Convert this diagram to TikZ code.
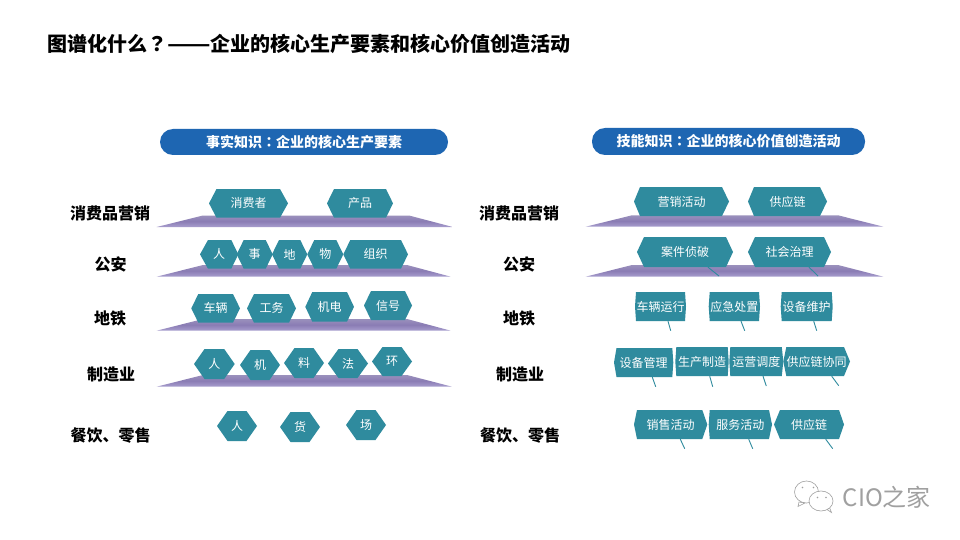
\documentclass[tikz,border=0pt]{standalone}
\usepackage{fontspec}
\setmainfont{Noto Sans CJK SC}
\newfontfamily\tcfont{Noto Sans CJK TC}
\definecolor{teal1}{HTML}{2F8B9E}
\definecolor{blue1}{HTML}{1E66B2}
\definecolor{pTop}{HTML}{9A90BC}
\definecolor{pMid}{HTML}{8A7CB4}
\definecolor{pBot}{HTML}{A89ECE}
\definecolor{greyA}{HTML}{A0A0A0}
\tikzset{
  hextext/.style={inner sep=0pt,text=white,font=\fontsize{12}{12}\selectfont},
  hexfill/.style={fill=teal1,draw=none},
  rowlabel/.style={inner sep=0pt,text=black,font=\fontsize{16}{16}\selectfont\bfseries},
  headbar/.style={fill=blue1,draw=none,rounded corners=13pt,inner sep=0pt,text=white,font=\fontsize{14}{14}\selectfont\bfseries},
  tailline/.style={draw=teal1,line width=0.9pt},
  logoline/.style={draw=greyA,line width=0.6pt,fill=white},
}
% name, x1, x2, y1, y2, left inset, right inset, text
\newcommand{\hexa}[8]{%
  \pgfmathsetmacro{\hw}{#3-(#2)}\pgfmathsetmacro{\hh}{#5-(#4)}%
  \pgfmathsetmacro{\hx}{(#2+#3)/2}\pgfmathsetmacro{\hy}{(#4+#5)/2}%
  \fill[hexfill] (#2,\hy) -- (#2+#6,#4) -- (#3-#7,#4) -- (#3,\hy) -- (#3-#7,#5) -- (#2+#6,#5) -- cycle;
  \node[hextext,minimum width=\hw pt,minimum height=\hh pt] (#1) at (\hx,\hy) {\raisebox{-1pt}{#8}};}
% name, bottom left, bottom right, top left, top right, top y, bottom y
\newcommand{\platform}[7]{%
  \shade[top color=pTop,bottom color=pBot,middle color=pMid] (#2,#7) -- (#4,#6) -- (#5,#6) -- (#3,#7) -- cycle;
  \coordinate (#1) at (#4,#6);}
% node, start x, end x, end y
\newcommand{\tailto}[4]{%
  \coordinate (#1-tip) at (#3,#4);
  \coordinate (#1-base) at (#2,0);
  \draw[tailline] (#1-base |- #1.south) -- (#1-tip);}
\begin{document}
\begin{tikzpicture}[x=1pt,y=-1pt]
\useasboundingbox (0,0) rectangle (960,540);
\fill[white] (0,0) rectangle (960,540);
\node[anchor=west,inner sep=0pt,font=\fontsize{20}{20}\selectfont\bfseries] (title) at (47,43.5) {图谱化什么{\tcfont ？}\scalebox{1.27}[1]{——}企业的核心生产要素和核心价值创造活动};
% headers
\node[headbar,minimum width=288pt,minimum height=26pt] (headL) at (304,142) {事实知识{\tcfont ：}企业的核心生产要素};
\node[headbar,minimum width=273pt,minimum height=27pt] (headR) at (728.5,141.5) {技能知识{\tcfont ：}企业的核心价值创造活动};
% row labels
\foreach \nm/\xx/\yy/\tt in {a/110/213/消费品营销,b/110.5/264/公安,c/110/318/地铁,d/111/374/制造业,e/110.5/436/餐饮、零售,
  f/519/213/消费品营销,g/519/264/公安,h/519/318/地铁,i/520/374/制造业,j/520/436/餐饮、零售}
  {\node[rowlabel] (lab\nm) at (\xx,\yy) {\tt};}
% platforms
\platform{pl1}{156.7}{452.7}{203}{409}{215.5}{227}
\platform{pl2}{156.7}{450.7}{203}{407}{265}{276.7}
\platform{pl3}{156.7}{450.7}{203}{407}{319}{330.7}
\platform{pl4}{156.7}{452}{203}{407}{375}{386.7}
\platform{pr1}{585.7}{883.3}{632}{838}{215.3}{226.7}
\platform{pr2}{585.7}{883.3}{632}{838}{265}{276.7}
% left hexagons
\hexa{l11}{209}{288}{189}{217.7}{7.5}{8}{\raisebox{-2pt}{消费者}}
\hexa{l12}{327}{393}{189}{217.7}{7}{7}{\raisebox{-1pt}{产品}}
\hexa{l21}{200}{238.3}{240}{268.7}{8}{7}{\raisebox{-1pt}{人}}
\hexa{l22}{236.7}{272.7}{240}{268.7}{7}{7}{\raisebox{-1pt}{事}}
\hexa{l23}{272}{307.3}{240}{268.7}{7}{7}{\raisebox{-1pt}{地}}
\hexa{l24}{307.3}{343.3}{240}{268.7}{7}{7}{\raisebox{-1pt}{物}}
\hexa{l25}{343.3}{408}{240}{268.7}{7}{7}{\raisebox{-1pt}{组织}}
\hexa{l31}{191.3}{240}{294}{322.7}{7}{7}{车辆}
\hexa{l32}{247}{296}{294}{322.7}{7}{7}{工务}
\hexa{l33}{305.3}{354}{292}{321.7}{7}{7}{机电}
\hexa{l34}{364}{412}{291}{320}{7}{7}{信号}
\hexa{l41}{194}{234.7}{349}{379}{10.5}{10.5}{人}
\hexa{l42}{240}{280}{350}{380}{10.5}{10.5}{机}
\hexa{l43}{284}{324}{348}{378}{10.5}{10.5}{料}
\hexa{l44}{328}{368}{349}{378}{10.5}{10.5}{法}
\hexa{l45}{372}{412}{347}{376}{10.5}{10.5}{环}
\hexa{l51}{217}{257}{411}{441}{10.5}{10.5}{人}
\hexa{l52}{280}{320}{412}{442}{10.5}{10.5}{货}
\hexa{l53}{346}{386}{410}{440}{10.5}{10.5}{场}
% right hexagons
\hexa{r11}{634}{729}{187}{216}{6}{7}{营销活动}
\hexa{r12}{748}{827}{187}{216}{6}{7}{供应链}
\hexa{r21}{637}{733}{237}{267}{7}{7}{案件侦破}
\hexa{r22}{748}{831}{237}{267}{7}{7}{社会治理}
\hexa{r31}{635}{686}{292}{321}{1}{1}{车辆运行}
\hexa{r32}{708.7}{760}{292}{321}{1}{1}{应急处置}
\hexa{r33}{780.7}{832.7}{292}{321}{1}{1}{设备维护}
\hexa{r41}{614}{673.3}{348}{377}{2.5}{1}{设备管理}
\hexa{r42}{675.3}{728.7}{347}{376}{1}{1}{生产制造}
\hexa{r43}{729.3}{783.3}{347}{376}{1}{1.5}{运营调度}
\hexa{r44}{783.3}{850}{347}{376}{3}{6}{供应链协同}
\hexa{r51}{634}{707.3}{410}{439}{3}{5}{销售活动}
\hexa{r52}{708.7}{772}{410}{439}{1}{3}{服务活动}
\hexa{r53}{774}{844}{410}{439}{6}{5}{供应链}
% tails
\tailto{r21}{708}{719}{276}
\tailto{r22}{809}{818}{276}
\tailto{r31}{668}{670.7}{330.7}
\tailto{r32}{741}{744.7}{330.7}
\tailto{r33}{813.7}{816.7}{330.7}
\tailto{r41}{652.3}{655.7}{386.7}
\tailto{r42}{709.7}{712.7}{386.7}
\tailto{r43}{763}{766.3}{386}
\tailto{r44}{831.7}{838.7}{385.7}
\tailto{r51}{680.3}{684.7}{448.7}
\tailto{r52}{748.7}{752.7}{448.7}
\tailto{r53}{825.7}{832.7}{448.7}
% logo
\draw[logoline] (799,502) -- (798,506.5) -- (805,503) -- cycle;
\draw[logoline] (806.5,492) ellipse (12 and 11);
\draw[logoline] (827,509.5) -- (831.5,512.5) -- (829.5,507.5) -- cycle;
\draw[logoline] (821,501) ellipse (12 and 10);
\fill[greyA] (802.5,487.5) circle (0.9) (813.5,487.5) circle (0.9) (817.5,497.5) circle (0.9) (826,497.5) circle (0.9);
\node[anchor=west,inner sep=0pt,text=greyA,font=\fontsize{24}{24}\selectfont] (brand) at (842.5,497) {CIO之家};
\end{tikzpicture}
\end{document}
